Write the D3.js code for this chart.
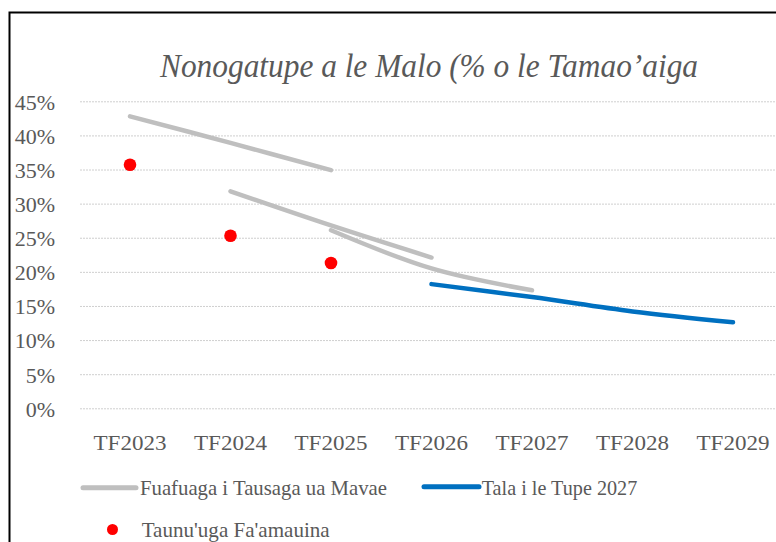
<!DOCTYPE html>
<html>
<head>
<meta charset="utf-8">
<script src="https://cdn.jsdelivr.net/npm/d3@7"></script>
<style>
  html, body { margin: 0; padding: 0; background: #fff; }
  svg { display: block; }
  svg text { font-family: "Liberation Serif", "Tinos", "Times New Roman", "DejaVu Serif", "Noto Serif", serif !important; fill: #595959; }
</style>
</head>
<body>
<svg id="chart" width="776" height="542"></svg>
<script>
// ---- data ----
const categories = ["TF2023", "TF2024", "TF2025", "TF2026", "TF2027", "TF2028", "TF2029"];
const past2023 = [0.428, 0.389, 0.349, null, null, null, null];
const past2024 = [null, 0.318, 0.268, 0.221, null, null, null];
const past2025 = [null, null, 0.261, 0.205, 0.173, null, null];
const budget2027 = [null, null, null, 0.182, 0.163, 0.142, 0.126];
const actual = [0.357, 0.253, 0.213, null, null, null, null];
const yTicks = [0, 0.05, 0.10, 0.15, 0.20, 0.25, 0.30, 0.35, 0.40, 0.45];
const title = "Nonogatupe a le Malo (% o le Tamao\u2019aiga";
const legendPast = "Fuafuaga i Tausaga ua Mavae";
const legendBudget = "Tala i le Tupe 2027";
const legendActual = "Taunu'uga Fa'amauina";

// ---- layout ----
const svg = d3.select("#chart");
const plotLeft = 79.75, plotRight = 783.25, plotTop = 101.3, plotBottom = 408.3;

svg.append("rect")
  .attr("x", 9.5).attr("y", 12.5).attr("width", 900).attr("height", 700)
  .attr("fill", "none").attr("stroke", "#000").attr("stroke-width", 2);

const x = d3.scaleBand().domain(categories).range([plotLeft, plotRight]);
const y = d3.scaleLinear().domain([0, 0.45]).range([plotBottom, plotTop]);
const cx = c => x(c) + x.bandwidth() / 2;

// title
svg.append("text")
  .attr("x", 160).attr("y", 76.7)
  .attr("font-size", 33).attr("font-style", "italic")
  .attr("textLength", 538).attr("lengthAdjust", "spacingAndGlyphs")
  .text(title);

// y axis + grid
const yAxis = d3.axisLeft(y).tickValues(yTicks).tickFormat(d3.format(".0%"))
  .tickSizeInner(-(plotRight - plotLeft)).tickSizeOuter(0).tickPadding(25);
const gy = svg.append("g").attr("transform", `translate(${plotLeft + 0.25},0)`).call(yAxis);
gy.attr("font-family", null);
gy.select(".domain").remove();
gy.selectAll(".tick line").attr("stroke", "#cfcfcf").attr("stroke-dasharray", "2,1").attr("stroke-width", 1);
gy.selectAll(".tick text").attr("font-size", 22).attr("fill", "#595959").attr("dy", "0.36em");

// x axis
const xAxis = d3.axisBottom(x).tickSize(0).tickPadding(26);
const gx = svg.append("g").attr("transform", `translate(0,${plotBottom})`).call(xAxis);
gx.attr("font-family", null);
gx.select(".domain").remove();
gx.selectAll(".tick text").attr("font-size", 22).attr("fill", "#595959")
  .attr("textLength", 73).attr("lengthAdjust", "spacingAndGlyphs");

// lines
const line = d3.line()
  .defined(d => d.v !== null)
  .x(d => cx(d.c)).y(d => y(d.v))
  .curve(d3.curveCatmullRom.alpha(0.5));
const toPts = arr => arr.map((v, i) => ({ c: categories[i], v }));

[past2023, past2024, past2025].forEach(s => {
  svg.append("path").datum(toPts(s)).attr("d", line)
    .attr("fill", "none").attr("stroke", "#BFBFBF").attr("stroke-width", 4.5)
    .attr("stroke-linecap", "round").attr("stroke-linejoin", "round");
});
svg.append("path").datum(toPts(budget2027)).attr("d", line)
  .attr("fill", "none").attr("stroke", "#0070C0").attr("stroke-width", 4.5)
  .attr("stroke-linecap", "round").attr("stroke-linejoin", "round");

// points
svg.append("g").selectAll("circle")
  .data(toPts(actual).filter(d => d.v !== null))
  .join("circle")
  .attr("cx", d => cx(d.c)).attr("cy", d => y(d.v)).attr("r", 6.3)
  .attr("fill", "#FF0000");

// legend
const lg = svg.append("g");
lg.append("line").attr("x1", 83).attr("x2", 136).attr("y1", 487.8).attr("y2", 487.8)
  .attr("stroke", "#BFBFBF").attr("stroke-width", 5).attr("stroke-linecap", "round");
lg.append("text").attr("x", 140).attr("y", 495).attr("font-size", 21)
  .attr("textLength", 247).attr("lengthAdjust", "spacingAndGlyphs").text(legendPast);
lg.append("line").attr("x1", 424).attr("x2", 479).attr("y1", 486.8).attr("y2", 486.8)
  .attr("stroke", "#0070C0").attr("stroke-width", 5).attr("stroke-linecap", "round");
lg.append("text").attr("x", 481.7).attr("y", 495).attr("font-size", 21)
  .attr("textLength", 155.6).attr("lengthAdjust", "spacingAndGlyphs").text(legendBudget);
lg.append("circle").attr("cx", 112.5).attr("cy", 529.5).attr("r", 5.5).attr("fill", "#FF0000");
lg.append("text").attr("x", 141.7).attr("y", 536.7).attr("font-size", 21)
  .attr("textLength", 188).attr("lengthAdjust", "spacingAndGlyphs").text(legendActual);
</script>
</body>
</html>
